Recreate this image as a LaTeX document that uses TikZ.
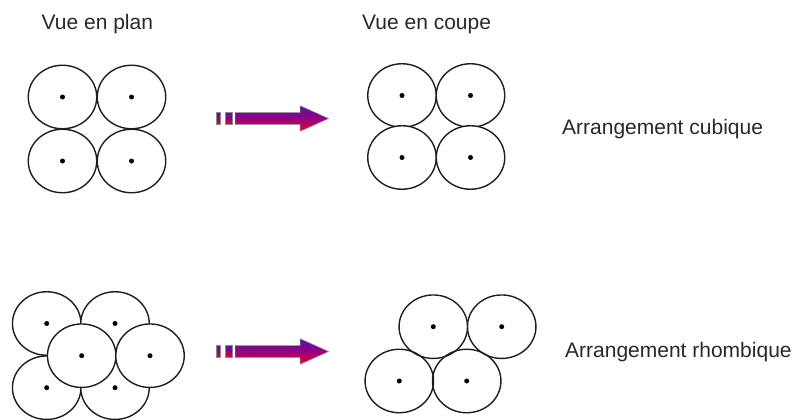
\documentclass[tikz,border=0pt]{standalone}
\usepackage{fontspec}
\setmainfont{Liberation Sans}
\usetikzlibrary{shapes.geometric}
\definecolor{txt}{RGB}{40,40,40}
\definecolor{ink}{RGB}{30,30,30}
\definecolor{artop}{RGB}{85,20,160}
\definecolor{armid}{RGB}{150,0,130}
\definecolor{arbot}{RGB}{235,0,40}
\tikzset{
  ball/.style={ellipse, draw=ink, line width=1.4pt, fill=white, minimum width=68.5pt, minimum height=63.5pt, inner sep=0pt},
  dot/.style={circle, fill=black, minimum size=5pt, inner sep=0pt},
  lab/.style={anchor=base west, inner sep=0pt, text=txt, font=\fontsize{21}{25}\selectfont},
  arr/.style={draw=black!45, line width=0.5pt, top color=artop, bottom color=arbot, middle color=armid}
}
\begin{document}
\begin{tikzpicture}[x=1pt,y=-1pt]
\useasboundingbox (0,0) rectangle (795,420);
% labels
\node[lab] (vp) at (41.5,30) {Vue en plan};
\node[lab] (vc) at (362,30) {Vue en coupe};
\node[lab] (ac) at (562,134.5) {Arrangement cubique};
\node[lab] (ar) at (565,357) {Arrangement rhombique};
% cubic, plan
\foreach \n/\x/\y in {a/62.5/97, b/131.5/97, c/62.5/161, d/131.5/161}{
  \node[ball] (p\n) at (\x,\y) {};
  \node[dot] (pd\n) at (\x,\y) {};
}
% cubic, section
\foreach \n/\x/\y in {a/402/95.5, b/470.5/95.5, c/402/157.5, d/470.5/157.5}{
  \node[ball] (s\n) at (\x,\y) {};
  \node[dot] (sd\n) at (\x,\y) {};
}
% rhombic, plan (outer rows first, middle row on top)
\foreach \n/\x/\y in {a/46.7/323.5, b/115/323.5, e/46.7/387.7, f/115/387.7, c/81.7/355.7, d/150/355.7}{
  \node[ball] (r\n) at (\x,\y) {};
  \node[dot] (rd\n) at (\x,\y) {};
}
% rhombic, section (transparent, crossing outlines)
\foreach \n/\x/\y in {a/433.3/326.7, b/501.7/326.7, c/399.3/381, d/466.7/381}{
  \node[ball, fill=none] (t\n) at (\x,\y) {};
  \node[dot] (td\n) at (\x,\y) {};
}
% arrows
\foreach \yc in {118.5, 351.5}{
  \fill[arr] (216.7,\yc-5.8) rectangle (220.7,\yc+5.8);
  \fill[arr] (225,\yc-5.8) rectangle (232,\yc+5.8);
  \path[arr] (235,\yc-5.8) -- (300,\yc-5.8) -- (300,\yc-12.8) -- (328.5,\yc) -- (300,\yc+12.8) -- (300,\yc+5.8) -- (235,\yc+5.8) -- cycle;
}
\end{tikzpicture}
\end{document}
